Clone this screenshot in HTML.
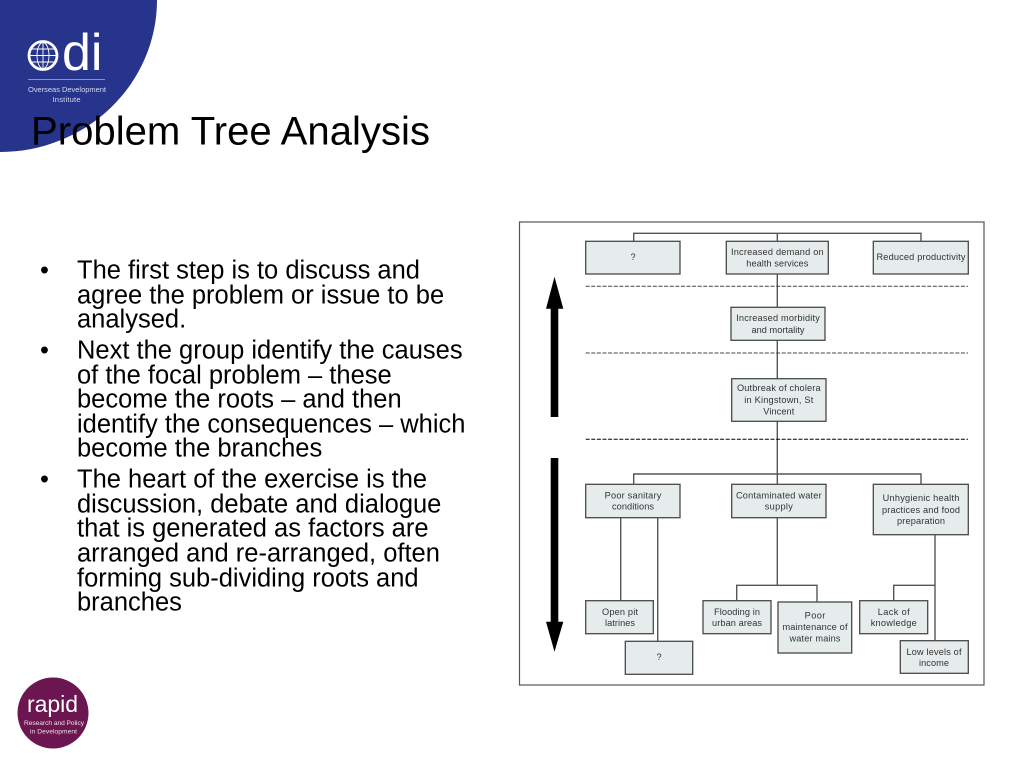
<!DOCTYPE html>
<html>
<head>
<meta charset="utf-8">
<title>Problem Tree Analysis</title>
<style>
html,body{margin:0;padding:0;background:#fff;width:1024px;height:768px;overflow:hidden}
svg{display:block;font-family:"Liberation Sans",sans-serif}
.b{font-size:25.5px;fill:#000}
.n rect{fill:#e6ecec;stroke:#4a4a4a;stroke-width:1.3}
.n text{font-size:9.2px;fill:#333;text-anchor:middle}
.c{stroke:#555;stroke-width:1.4;fill:none}
.d{stroke:#444;stroke-width:1;stroke-dasharray:4 1.6;fill:none}
</style>
</head>
<body>
<svg width="1024" height="768" viewBox="0 0 1024 768" xmlns="http://www.w3.org/2000/svg">
  <defs>
    <filter id="s" x="-2%" y="-2%" width="104%" height="104%"><feGaussianBlur stdDeviation="0.35"/></filter>
  </defs>
  <!-- ODI corner -->
  <path d="M0 0H157A157 152 0 0 1 0 152Z" fill="#27348b"/>
  <g filter="url(#s)">
    <g fill="none" stroke="#fff">
      <circle cx="43" cy="55.5" r="14" stroke-width="2.8"/>
      <g stroke-width="0.9">
        <ellipse cx="43" cy="55.5" rx="6" ry="13"/>
        <path d="M43 43V68M30 55.5H56M32 49H54M32 62H54"/>
      </g>
    </g>
    <text x="62" y="70" font-size="52" fill="#fff">di</text>
    <path d="M28 79.5H105" stroke="#a9b0d8" stroke-width="0.8"/>
    <text x="67" y="92" font-size="7.5" fill="#d5d9ee" text-anchor="middle" textLength="78">Overseas Development</text>
    <text x="66.5" y="102" font-size="7.5" fill="#d5d9ee" text-anchor="middle" textLength="28">Institute</text>
  </g>

  <!-- Title -->
  <text x="31" y="144.5" font-size="40" fill="#000" textLength="399" lengthAdjust="spacingAndGlyphs">Problem Tree Analysis</text>

  <!-- Bullets -->
  <g class="b" transform="translate(0 0.5)">
    <text x="40" y="278">•</text>
    <text x="77" y="278">The first step is to discuss and</text>
    <text x="77" y="303">agree the problem or issue to be</text>
    <text x="77" y="327">analysed.</text>
    <text x="40" y="358">•</text>
    <text x="77" y="358">Next the group identify the causes</text>
    <text x="77" y="383">of the focal problem – these</text>
    <text x="77" y="407">become the roots – and then</text>
    <text x="77" y="432">identify the consequences – which</text>
    <text x="77" y="456">become the branches</text>
    <text x="40" y="487">•</text>
    <text x="77" y="487">The heart of the exercise is the</text>
    <text x="77" y="512">discussion, debate and dialogue</text>
    <text x="77" y="536">that is generated as factors are</text>
    <text x="77" y="561">arranged and re-arranged, often</text>
    <text x="77" y="586">forming sub-dividing roots and</text>
    <text x="77" y="610">branches</text>
  </g>

  <!-- Diagram frame -->
  <rect x="519.5" y="222" width="464.5" height="463" fill="#fff" stroke="#555" stroke-width="1.2"/>

  <g filter="url(#s)">
  <!-- Arrows -->
  <path d="M550.7 417V308.7H546L554.5 276.7L563.3 308.7H558.3V417Z" fill="#000"/>
  <path d="M550.7 458V621.7H546L554.5 651.7L563.3 621.7H558.3V458Z" fill="#000"/>

  <!-- Connectors -->
  <g class="c">
    <path d="M633.7 241V233.3H921V241"/>
    <path d="M777.3 233.3V484"/>
    <path d="M633.7 484V474H921V484"/>
    <path d="M620.7 517V600.7"/>
    <path d="M657.7 517V641.3"/>
    <path d="M777.3 517V585.3"/>
    <path d="M736.7 600.7V585.3H817V602"/>
    <path d="M935 534V640.7"/>
    <path d="M893.7 600.7V585.3H935"/>
  </g>

  <!-- Dashed lines -->
  <g class="d">
    <path d="M585.7 286.3H968"/>
    <path d="M585.7 353H968"/>
    <path d="M585.7 439.3H968" stroke="#000"/>
  </g>

  <!-- Nodes -->
  <g class="n">
    <rect x="585.7" y="241.3" width="94.3" height="32.7"/>
    <text x="633" y="260">?</text>

    <rect x="726.3" y="241.3" width="102" height="32.7"/>
    <text x="777.3" y="255" textLength="92.7">Increased demand on</text>
    <text x="777.3" y="266.5" textLength="62">health services</text>

    <rect x="873.3" y="241.3" width="95" height="32.7"/>
    <text x="921" y="260" textLength="89">Reduced productivity</text>

    <rect x="731" y="307.3" width="94" height="33"/>
    <text x="778" y="321" textLength="83.7">Increased morbidity</text>
    <text x="778" y="333" textLength="53">and mortality</text>

    <rect x="731.7" y="378.7" width="94.3" height="42.6"/>
    <text x="778.8" y="391" textLength="83.7">Outbreak of cholera</text>
    <text x="778.8" y="403" textLength="69">in Kingstown, St</text>
    <text x="778.8" y="414.5" textLength="31">Vincent</text>

    <rect x="585.7" y="484.3" width="94.3" height="33.4"/>
    <text x="633" y="498.5" textLength="56.7">Poor sanitary</text>
    <text x="633" y="509.5" textLength="42">conditions</text>

    <rect x="731.7" y="484.3" width="94.3" height="33.4"/>
    <text x="778.8" y="498.5" textLength="85.7">Contaminated water</text>
    <text x="778.8" y="509.5" textLength="28">supply</text>

    <rect x="873.3" y="484.3" width="95" height="50.4"/>
    <text x="921" y="501" textLength="76.7">Unhygienic health</text>
    <text x="921" y="513" textLength="78">practices and food</text>
    <text x="921" y="524" textLength="48">preparation</text>

    <rect x="585.7" y="600.7" width="67.6" height="33"/>
    <text x="620" y="615" textLength="36">Open pit</text>
    <text x="620" y="626" textLength="30">latrines</text>

    <rect x="625.3" y="641.3" width="67.4" height="33"/>
    <text x="659" y="660">?</text>

    <rect x="703" y="600.7" width="68" height="33"/>
    <text x="737" y="615" textLength="46">Flooding in</text>
    <text x="737" y="626" textLength="50">urban areas</text>

    <rect x="778" y="602" width="73.7" height="51"/>
    <text x="815" y="618.5" textLength="20.7">Poor</text>
    <text x="815" y="630" textLength="65">maintenance of</text>
    <text x="815" y="641.5" textLength="51">water mains</text>

    <rect x="859.7" y="600.7" width="68" height="33"/>
    <text x="893.7" y="615" textLength="32">Lack of</text>
    <text x="893.7" y="626" textLength="46">knowledge</text>

    <rect x="900.3" y="640.7" width="68" height="32.6"/>
    <text x="934" y="655" textLength="55">Low levels of</text>
    <text x="934" y="666" textLength="30">income</text>
  </g>
  </g>

  <!-- RAPID logo -->
  <circle cx="53" cy="713" r="35.5" fill="#6b1650"/>
  <g filter="url(#s)">
    <text x="52.5" y="712" font-size="23" fill="#fff" text-anchor="middle" textLength="51">rapid</text>
    <text x="54" y="725" font-size="6.6" fill="#f0dfea" text-anchor="middle" textLength="60">Research and Policy</text>
    <text x="53.5" y="733.5" font-size="6.6" fill="#f0dfea" text-anchor="middle" textLength="47">in Development</text>
  </g>
</svg>
</body>
</html>
